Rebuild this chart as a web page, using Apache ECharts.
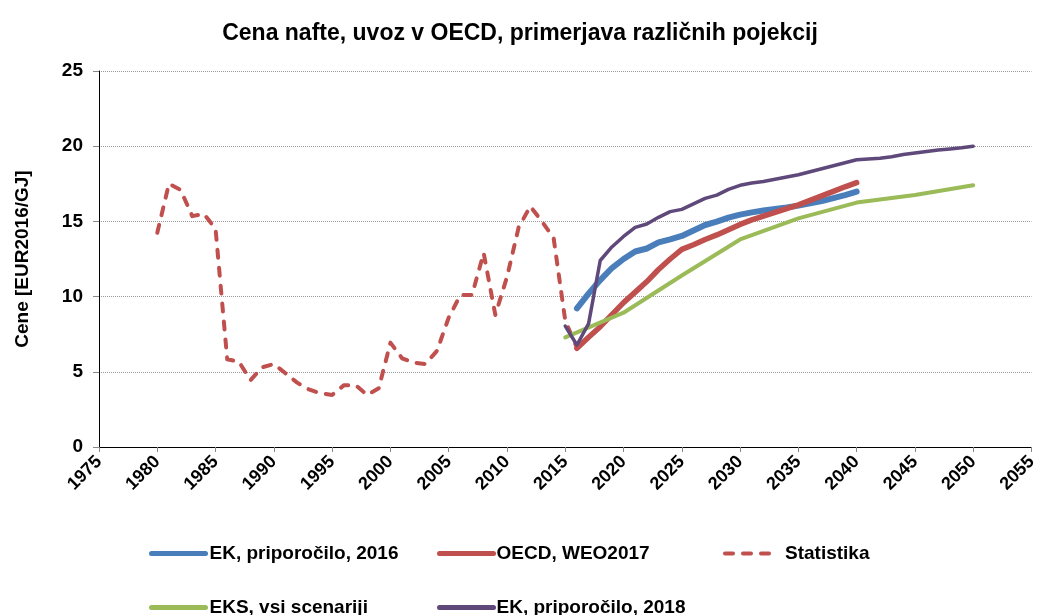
<!DOCTYPE html>
<html>
<head>
<meta charset="utf-8">
<title>Cena nafte, uvoz v OECD</title>
<script src="https://cdn.jsdelivr.net/npm/echarts@6/dist/echarts.min.js"></script>
<style>
  html, body { margin: 0; padding: 0; background: #fff; }
  #chart { width: 1040px; height: 615px; }
</style>
</head>
<body>
<div id="chart"></div>
<script>
// podatki, odčitani s slike
const seriesNames = ['EK, priporočilo, 2016', 'OECD, WEO2017', 'Statistika', 'EKS, vsi scenariji', 'EK, priporočilo, 2018'];

const statYears = [1980, 1981, 1982, 1983, 1984, 1985, 1986, 1987, 1988, 1989, 1990, 1991, 1992, 1993, 1994, 1995, 1996, 1997, 1998, 1999,
  2000, 2001, 2002, 2003, 2004, 2005, 2006, 2007, 2008, 2009, 2010, 2011, 2012, 2013, 2014, 2015, 2016];
const statValues = [14.25, 17.5, 17.1, 15.35, 15.5, 14.5, 5.83, 5.67, 4.45, 5.3, 5.52, 4.9, 4.28, 3.83, 3.57, 3.46, 4.1, 4.12, 3.46, 3.9,
  6.94, 5.9, 5.6, 5.52, 6.4, 8.6, 10.1, 10.1, 12.9, 8.78, 11.3, 14.6, 16.0, 15.0, 13.9, 8.4, 6.6];

const ek2016Years = [2016, 2017, 2018, 2019, 2020, 2021, 2022, 2023, 2024, 2025, 2026, 2027, 2028, 2029, 2030,
  2031, 2032, 2033, 2034, 2035, 2036, 2037, 2038, 2039, 2040];
const ek2016Values = [9.22, 10.2, 11.1, 11.9, 12.5, 13.0, 13.2, 13.6, 13.8, 14.03, 14.4, 14.76, 14.98, 15.25, 15.45,
  15.6, 15.72, 15.82, 15.92, 16.05, 16.2, 16.35, 16.55, 16.75, 16.98];

const oecdYears = [2016, 2017, 2018, 2019, 2020, 2021, 2022, 2023, 2024, 2025, 2026, 2027, 2028, 2029, 2030,
  2031, 2032, 2033, 2034, 2035, 2036, 2037, 2038, 2039, 2040];
const oecdValues = [6.56, 7.3, 8.0, 8.8, 9.6, 10.3, 11.0, 11.8, 12.5, 13.14, 13.45, 13.8, 14.1, 14.45, 14.8,
  15.1, 15.35, 15.6, 15.85, 16.1, 16.4, 16.7, 17.0, 17.3, 17.58];

const eksYears = [2015, 2020, 2025, 2030, 2035, 2040, 2045, 2050];
const eksValues = [7.29, 8.93, 11.4, 13.8, 15.2, 16.25, 16.75, 17.4];

const ek2018Years = [2015, 2016, 2017, 2018, 2019, 2020, 2021, 2022, 2023, 2024, 2025, 2026, 2027, 2028, 2029, 2030,
  2031, 2032, 2033, 2034, 2035, 2036, 2037, 2038, 2039, 2040, 2041, 2042, 2043, 2044, 2045, 2046, 2047, 2048, 2049, 2050];
const ek2018Values = [8.04, 6.78, 8.2, 12.4, 13.3, 14.0, 14.6, 14.83, 15.27, 15.65, 15.8, 16.16, 16.53, 16.75, 17.13, 17.4,
  17.55, 17.65, 17.8, 17.95, 18.1, 18.3, 18.5, 18.7, 18.9, 19.1, 19.15, 19.2, 19.3, 19.45, 19.55, 19.65, 19.75, 19.82, 19.9, 20.0];

const colors = ['#4A7EBB', '#C0504D', '#C0504D', '#9BBB59', '#5F497A'];
const widths = [6, 5.5, 4, 4, 3.5];
const dashes = ['solid', 'solid', [8, 10], 'solid', 'solid'];
const font = '"Liberation Sans", Arial, sans-serif';

function pairs(xs, ys) {
  return xs.map((x, i) => [x, ys[i]]);
}

const chart = echarts.init(document.getElementById('chart'));

function lineSeries(idx, data) {
  return {
    name: seriesNames[idx],
    type: 'line',
    data: data,
    symbol: 'none',
    smooth: false,
    color: colors[idx],
    lineStyle: { color: colors[idx], width: widths[idx], type: dashes[idx], cap: 'round', join: 'round' },
    emphasis: { disabled: true }
  };
}

// vsaka legenda posebej, da so na istih mestih kot v izvirniku
function legendItem(idx, left, top, width, textGap) {
  return {
    data: [seriesNames[idx]],
    left: left,
    top: top,
    padding: 0,
    itemWidth: width,
    itemHeight: 14,
    selectedMode: false,
    itemStyle: { opacity: 0 },
    lineStyle: { width: idx === 2 ? 4 : 5, type: dashes[idx], cap: 'round', color: colors[idx] },
    textStyle: { fontFamily: font, fontSize: 19, fontWeight: 'bold', color: '#000', padding: [0, 0, 0, textGap] }
  };
}

const option = {
  animation: false,
  backgroundColor: '#fff',
  title: {
    text: 'Cena nafte, uvoz v OECD, primerjava različnih pojekcij',
    left: 'center',
    top: 17,
    textStyle: { fontFamily: font, fontSize: 23, fontWeight: 'bold', color: '#000' }
  },
  legend: [
    legendItem(0, 149, 544, 54, -1),
    legendItem(1, 437, 544, 54, -2),
    legendItem(2, 723, 544, 46, 9),
    legendItem(3, 149, 598, 54, -1),
    legendItem(4, 437, 598, 54, -2)
  ],
  grid: { left: 99, right: 4, top: 71, bottom: 168, containLabel: false },
  xAxis: {
    type: 'value',
    min: 1975,
    max: 2055,
    interval: 5,
    axisLine: { show: true, lineStyle: { color: '#000', width: 1 } },
    axisTick: { show: true, length: 5, lineStyle: { color: '#888' } },
    splitLine: { show: false },
    axisLabel: {
      rotate: 45,
      margin: 12,
      color: '#000',
      fontFamily: font,
      fontSize: 18,
      fontWeight: 'bold',
      formatter: v => String(v)
    }
  },
  yAxis: {
    type: 'value',
    min: 0,
    max: 25,
    interval: 5,
    name: 'Cene [EUR2016/GJ]',
    nameLocation: 'middle',
    nameGap: 67,
    nameTextStyle: { fontFamily: font, fontSize: 19, fontWeight: 'bold', color: '#000' },
    axisLine: { show: true, lineStyle: { color: '#000', width: 1 } },
    axisTick: { show: true, length: 6, lineStyle: { color: '#888' } },
    splitLine: { show: true, lineStyle: { color: '#9a9a9a', width: 1, type: [1, 1] } },
    axisLabel: {
      margin: 16,
      color: '#000',
      fontFamily: font,
      fontSize: 19,
      fontWeight: 'bold'
    }
  },
  series: [
    lineSeries(0, pairs(ek2016Years, ek2016Values)),
    lineSeries(1, pairs(oecdYears, oecdValues)),
    lineSeries(2, pairs(statYears, statValues)),
    lineSeries(3, pairs(eksYears, eksValues)),
    lineSeries(4, pairs(ek2018Years, ek2018Values))
  ]
};

chart.setOption(option);
</script>
</body>
</html>
